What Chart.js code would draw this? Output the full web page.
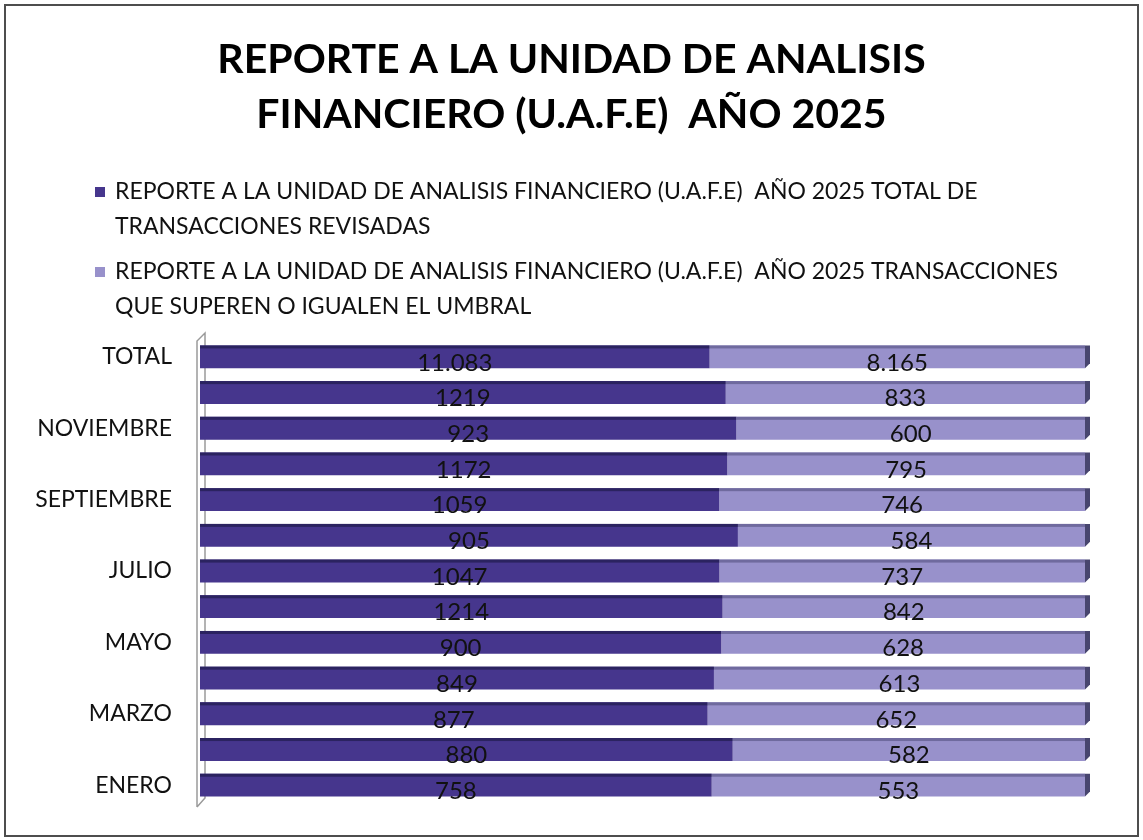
<!DOCTYPE html>
<html lang="es">
<head>
<meta charset="utf-8">
<title>Reporte UAFE 2025</title>
<script src="https://cdn.jsdelivr.net/npm/chart.js@4.4.1/dist/chart.umd.min.js"></script>
<style>
  html, body { margin: 0; padding: 0; background: #fff; }
  #contenedor { position: relative; width: 1143px; height: 840px; }
  #marco { position: absolute; left: 4px; top: 4px; width: 1131px; height: 829px; border: 2px solid #4d4d4d; pointer-events: none; }
  canvas { position: absolute; left: 0; top: 0; }
</style>
</head>
<body>
<div id="contenedor">
  <canvas id="grafico" width="1143" height="840"></canvas>
  <div id="marco"></div>
</div>
<script>
// datos (de arriba hacia abajo)
const categorias = ["TOTAL", "DICIEMBRE", "NOVIEMBRE", "OCTUBRE", "SEPTIEMBRE", "AGOSTO", "JULIO",
  "JUNIO", "MAYO", "ABRIL", "MARZO", "FEBRERO", "ENERO"];
const totalRevisadas = [11083, 1219, 923, 1172, 1059, 905, 1047, 1214, 900, 849, 877, 880, 758];
const superanUmbral = [8165, 833, 600, 795, 746, 584, 737, 842, 628, 613, 652, 582, 553];

const tituloLineas = ["REPORTE A LA UNIDAD DE ANALISIS", "FINANCIERO (U.A.F.E)  AÑO 2025"];
const leyendaLineas = [
  ["REPORTE A LA UNIDAD DE ANALISIS FINANCIERO (U.A.F.E)  AÑO 2025 TOTAL DE", "TRANSACCIONES REVISADAS"],
  ["REPORTE A LA UNIDAD DE ANALISIS FINANCIERO (U.A.F.E)  AÑO 2025 TRANSACCIONES", "QUE SUPEREN O IGUALEN EL UMBRAL"]
];

const fuente = "Lato, 'Liberation Sans', sans-serif";
const colores = ["#46368d", "#9891cb"];
const coloresTapa = ["#2b2360", "#6f6a9e"];
const series = [totalRevisadas, superanUmbral];

// 100% apilado
const porcentaje = (a, b) => a.map((v, i) => v / (v + b[i]) * 100);
const pctRevisadas = porcentaje(totalRevisadas, superanUmbral);
const pctUmbral = porcentaje(superanUmbral, totalRevisadas);

function formatear(valor, indice) {
  if (categorias[indice] === "TOTAL") {
    return String(valor).replace(/\B(?=(\d{3})+(?!\d))/g, ".");
  }
  return String(valor);
}

const efecto3d = {
  id: "efecto3d",
  beforeDatasetsDraw(chart) {
    const { ctx, chartArea } = chart;
    ctx.save();
    ctx.strokeStyle = "#9a9a9a";
    ctx.lineWidth = 1.5;
    ctx.beginPath();
    ctx.moveTo(chartArea.left - 3, chartArea.bottom + 4);
    ctx.lineTo(chartArea.left - 3, chartArea.top + 2);
    ctx.lineTo(chartArea.left + 5, chartArea.top - 6);
    ctx.lineTo(chartArea.left + 5, chartArea.bottom - 5);
    ctx.lineTo(chartArea.left - 3, chartArea.bottom + 4);
    ctx.stroke();
    ctx.restore();
  },
  afterDatasetsDraw(chart) {
    const ctx = chart.ctx;
    ctx.save();
    chart.data.datasets.forEach((ds, i) => {
      const meta = chart.getDatasetMeta(i);
      meta.data.forEach((barra) => {
        const izq = Math.min(barra.x, barra.base);
        const der = Math.max(barra.x, barra.base);
        const arriba = barra.y - barra.height / 2;
        const abajo = barra.y + barra.height / 2;
        ctx.fillStyle = coloresTapa[i];
        ctx.fillRect(izq, arriba, der - izq, 3);
        if (i === chart.data.datasets.length - 1) {
          ctx.fillStyle = "#47456e";
          ctx.beginPath();
          ctx.moveTo(der, arriba);
          ctx.lineTo(der + 5, arriba);
          ctx.lineTo(der + 5, abajo - 5);
          ctx.lineTo(der, abajo);
          ctx.closePath();
          ctx.fill();
        }
      });
    });

    // etiquetas de valores
    ctx.font = "24px " + fuente;
    ctx.fillStyle = "#111";
    ctx.textAlign = "center";
    ctx.textBaseline = "middle";
    chart.data.datasets.forEach((ds, i) => {
      chart.getDatasetMeta(i).data.forEach((barra, j) => {
        ctx.fillText(formatear(series[i][j], j), (barra.x + barra.base) / 2, barra.y + 6);
      });
    });
    ctx.restore();
  }
};

// titulo centrado en el lienzo y leyenda en dos lineas por serie
const encabezado = {
  id: "encabezado",
  afterDraw(chart) {
    const ctx = chart.ctx;
    ctx.save();
    ctx.textBaseline = "middle";
    ctx.textAlign = "center";
    ctx.fillStyle = "#000";
    ctx.font = "bold 41px " + fuente;
    tituloLineas.forEach((linea, k) => ctx.fillText(linea, chart.width / 2, 60 + k * 55));

    ctx.font = "23px " + fuente;
    ctx.textAlign = "left";
    leyendaLineas.forEach((lineas, i) => {
      const y = 192 + i * 80;
      ctx.fillStyle = colores[i];
      ctx.fillRect(95, y - 5, 10, 10);
      ctx.fillStyle = "#111";
      lineas.forEach((linea, k) => ctx.fillText(linea, 115, y + k * 35));
    });
    ctx.restore();
  }
};

new Chart(document.getElementById("grafico"), {
  type: "bar",
  data: {
    labels: categorias,
    datasets: [
      { label: leyendaLineas[0].join(" "), data: pctRevisadas, backgroundColor: colores[0] },
      { label: leyendaLineas[1].join(" "), data: pctUmbral, backgroundColor: colores[1] }
    ]
  },
  options: {
    indexAxis: "y",
    responsive: false,
    animation: false,
    layout: { padding: { left: 18, right: 58, top: 339, bottom: 37 } },
    datasets: { bar: { barPercentage: 0.64, categoryPercentage: 1 } },
    plugins: {
      legend: { display: false },
      title: { display: false },
      tooltip: { enabled: true }
    },
    scales: {
      x: { stacked: true, min: 0, max: 100, display: false },
      y: {
        stacked: true,
        grid: { display: false },
        border: { display: false },
        afterFit: (escala) => { escala.width = 182; },
        ticks: {
          autoSkip: false,
          padding: 20,
          color: "#111",
          font: { family: fuente, size: 23 },
          callback: function (valor, indice) {
            return indice % 2 === 0 ? this.getLabelForValue(valor) : "";
          }
        }
      }
    }
  },
  plugins: [efecto3d, encabezado]
});
</script>
</body>
</html>
